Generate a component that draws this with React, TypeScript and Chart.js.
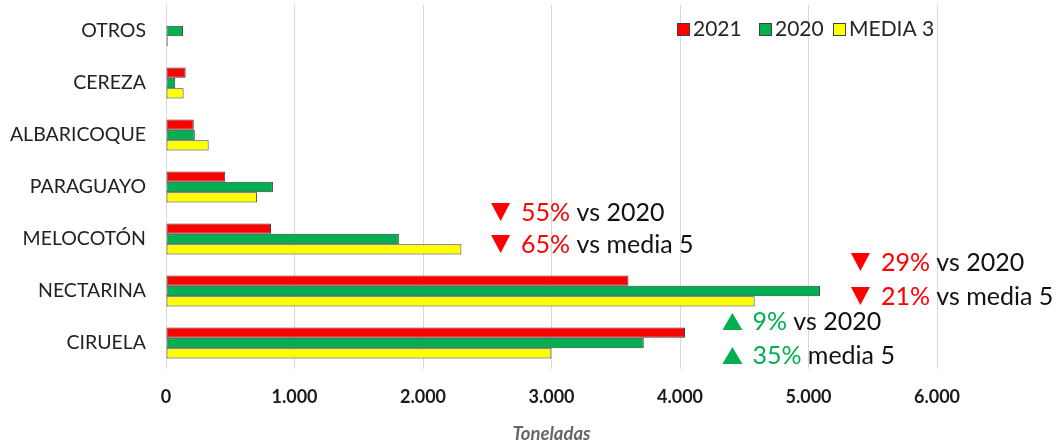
import React, { useEffect, useRef } from "react";
import { Chart, registerables } from "chart.js";

Chart.register(...registerables);

const categories = ["OTROS", "CEREZA", "ALBARICOQUE", "PARAGUAYO", "MELOCOTÓN", "NECTARINA", "CIRUELA"];
const seriesLabels = ["2021", "2020", "MEDIA 3"];
const values2021 = [4, 153, 216, 461, 817, 3599, 4039];
const values2020 = [132, 72, 224, 832, 1812, 5090, 3718];
const valuesMedia3 = [13, 137, 332, 709, 2299, 4581, 2999];
const seriesColors = ["#ff0000", "#00b050", "#ffff00"];
const xTickValues = [0, 1000, 2000, 3000, 4000, 5000, 6000];
const axisTitle = "Toneladas";

// annotation texts, anchored at a category and an x value (toneladas)
const annotCategories = ["MELOCOTÓN", "NECTARINA", "CIRUELA"];
const annotXValues = [2530, 5330, 4330];
const annotUp = [false, false, true];
const annotLine1Pct = ["55%", "29%", "9%"];
const annotLine1Rest = ["vs 2020", "vs 2020", "vs 2020"];
const annotLine2Pct = ["65%", "21%", "35%"];
const annotLine2Rest = ["vs media 5", "vs media 5", "media 5"];
const annotBaseOffsets = [[-18, 14], [-20, 14], [-13, 21]];

const FONT = "Lato, 'Open Sans', 'DejaVu Sans', sans-serif";

function fmt(v: number): string {
  return String(v).replace(/\B(?=(\d{3})+(?!\d))/g, ".");
}

const overlayPlugin = {
  id: "overlay",
  afterDraw(chart: any) {
    const ctx = chart.ctx as CanvasRenderingContext2D;
    const xs = chart.scales.x;
    const ys = chart.scales.y;
    ctx.save();
    // legend
    const legendX = [677, 759, 833];
    ctx.font = `21px ${FONT}`;
    ctx.textBaseline = "middle";
    ctx.textAlign = "left";
    seriesLabels.forEach((lab, i) => {
      const bx = legendX[i];
      ctx.fillStyle = seriesColors[i];
      ctx.fillRect(bx, 23, 13, 13);
      ctx.strokeStyle = "#404040";
      ctx.lineWidth = 1;
      ctx.strokeRect(bx + 0.5, 23.5, 12, 12);
      ctx.fillStyle = "#262626";
      ctx.fillText(lab, bx + 16, 29.5);
    });
    // annotations
    ctx.font = `25px ${FONT}`;
    ctx.textBaseline = "alphabetic";
    annotCategories.forEach((cat, i) => {
      const idx = categories.indexOf(cat);
      const cy = ys.getPixelForValue(idx);
      const x0 = xs.getPixelForValue(annotXValues[i]);
      const color = annotUp[i] ? "#00b050" : "#ff0000";
      const lines = [
        [annotLine1Pct[i], annotLine1Rest[i]],
        [annotLine2Pct[i], annotLine2Rest[i]],
      ];
      lines.forEach((ln, j) => {
        const base = cy + annotBaseOffsets[i][j];
        ctx.fillStyle = color;
        ctx.beginPath();
        if (annotUp[i]) {
          ctx.moveTo(x0, base);
          ctx.lineTo(x0 + 20, base);
          ctx.lineTo(x0 + 10, base - 17);
        } else {
          ctx.moveTo(x0, base - 18);
          ctx.lineTo(x0 + 19, base - 18);
          ctx.lineTo(x0 + 9.5, base);
        }
        ctx.closePath();
        ctx.fill();
        const tx = x0 + 30;
        ctx.fillStyle = color;
        ctx.fillText(ln[0], tx, base);
        const w = ctx.measureText(ln[0] + " ").width;
        ctx.fillStyle = "#111111";
        ctx.fillText(ln[1], tx + w, base);
      });
    });
    ctx.restore();
  },
};

export default function App() {
  const canvasRef = useRef<HTMLCanvasElement | null>(null);

  useEffect(() => {
    document.body.style.margin = "0";
    const canvas = canvasRef.current;
    if (!canvas) return;
    const chart = new Chart(canvas, {
      type: "bar",
      data: {
        labels: categories,
        datasets: [values2021, values2020, valuesMedia3].map((d, i) => ({
          label: seriesLabels[i],
          data: d,
          backgroundColor: seriesColors[i],
          borderColor: "#3c3c3c",
          borderWidth: 1,
          borderSkipped: false,
          categoryPercentage: 0.6,
          barPercentage: 1.0,
        })),
      },
      options: {
        indexAxis: "y",
        responsive: false,
        animation: false,
        events: [],
        layout: { padding: { top: 5, right: 124, left: 0, bottom: 0 } },
        plugins: {
          legend: { display: false },
          tooltip: { enabled: false },
        },
        scales: {
          x: {
            min: 0,
            max: 6000,
            afterBuildTicks(scale: any) {
              scale.ticks = xTickValues.map((v) => ({ value: v }));
            },
            afterFit(scale: any) {
              scale.height = 74;
              scale.paddingLeft = 0;
              scale.paddingRight = 0;
            },
            grid: { color: "#d9d9d9", lineWidth: 1, drawTicks: false },
            border: { display: false },
            ticks: {
              padding: 17,
              color: "#1a1a1a",
              font: { family: FONT, size: 18, weight: "bold" },
              callback: (v: any) => fmt(Number(v)),
            },
            title: {
              display: true,
              text: axisTitle,
              color: "#666666",
              padding: { top: 0, bottom: 0 },
              font: { family: FONT, size: 18.5, weight: "bold", style: "italic", lineHeight: 1 },
            },
          },
          y: {
            afterFit(scale: any) {
              scale.width = 166;
              scale.paddingTop = 0;
              scale.paddingBottom = 0;
            },
            grid: { display: false, drawTicks: false },
            border: { display: false },
            ticks: {
              padding: 20,
              color: "#222222",
              font: { family: FONT, size: 19.5 },
            },
          },
        },
      },
      plugins: [overlayPlugin],
    } as any);
    return () => chart.destroy();
  }, []);

  return (
    <div style={{ position: "absolute", left: 0, top: 0, width: 1061, height: 443 }}>
      <canvas ref={canvasRef} width={1061} height={443} style={{ width: 1061, height: 443, display: "block" }} />
    </div>
  );
}
